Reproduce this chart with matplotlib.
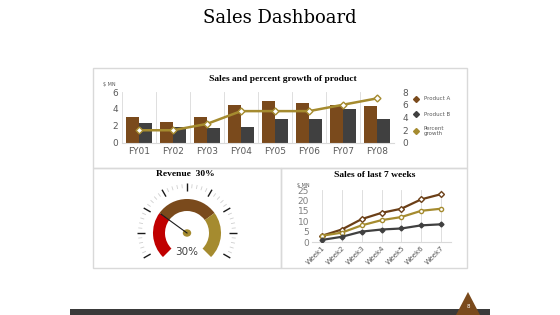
import numpy as np
import matplotlib.pyplot as plt
from matplotlib.patches import Wedge, Rectangle, Polygon, Ellipse

# data
years = ["FY01", "FY02", "FY03", "FY04", "FY05", "FY06", "FY07", "FY08"]
product_a = [3.0, 2.5, 3.0, 4.5, 4.9, 4.7, 4.5, 4.4]
product_b = [2.4, 1.9, 1.8, 1.9, 2.8, 2.8, 4.0, 2.8]
growth = [2, 2, 3, 5, 5, 5, 6, 7]

revenue_pct = 30
gauge_bands = [30, 40, 30]  # red, brown, gold share of the dial

weeks = ["Week1", "Week2", "Week3", "Week4", "Week5", "Week6", "Week7"]
week_top = [3, 6, 11, 14, 16, 20.5, 23]
week_mid = [3, 4.5, 8, 10.5, 12, 15, 16]
week_low = [1, 2.5, 5, 6, 6.5, 8, 8.5]

BROWN = "#7A4A1C"
DARK = "#404040"
GOLD = "#A58B2F"
RED = "#C00000"
GRID = "#D9D9D9"
TXT = "#595959"
SERIF = "Liberation Serif"

W, H = 560, 315
fig = plt.figure(figsize=(5.6, 3.15), dpi=100)


def px_axes(x0, y0, x1, y1, **kw):
    return fig.add_axes([x0 / W, 1 - y1 / H, (x1 - x0) / W, (y1 - y0) / H], **kw)


bg = px_axes(0, 0, W, H)
bg.set_xlim(0, W)
bg.set_ylim(H, 0)
bg.axis("off")
bg.text(280, 18, "Sales Dashboard", ha="center", va="center",
        family="DejaVu Serif", fontsize=13, color="black")
# panel frames
bg.add_patch(Rectangle((93, 68), 374, 100, fill=False, ec=GRID, lw=1))
bg.add_patch(Rectangle((93, 168), 188, 100, fill=False, ec=GRID, lw=1))
bg.add_patch(Rectangle((281, 168), 186, 100, fill=False, ec=GRID, lw=1))
# footer
bg.add_patch(Rectangle((70, 309), 420, 6, color="#3A3A3A", lw=0))
bg.add_patch(Polygon([[456, 315], [468, 292], [480, 315]], closed=True, color=BROWN, lw=0))
bg.text(468, 307, "8", ha="center", va="center", fontsize=4, color="white")

bg.text(283, 79, "Sales and percent growth of product", ha="center", va="center",
        family=SERIF, fontsize=6.8, fontweight="bold")
bg.text(185, 174, "Revenue  30%", ha="center", va="center",
        family=SERIF, fontsize=6.8, fontweight="bold")
bg.text(375, 175, "Sales of last 7 weeks", ha="center", va="center",
        family=SERIF, fontsize=6.8, fontweight="bold")

# top combo chart
ax = px_axes(122, 92, 394, 143)
x = np.arange(len(years))
ax.bar(x - 0.19, product_a, 0.38, color=BROWN, zorder=2)
ax.bar(x + 0.19, product_b, 0.38, color=DARK, zorder=2)
ax.set_xlim(-0.5, len(years) - 0.5)
ax.set_ylim(0, 6)
ax.set_yticks([0, 2, 4, 6])
ax.set_xticks(x)
ax.set_xticklabels(years)
ax.set_xticks(np.arange(len(years) + 1) - 0.5, minor=True)
ax.grid(axis="x", which="minor", color=GRID, lw=0.6, zorder=0)
ax.tick_params(which="both", length=0, labelsize=6.5, colors=TXT, pad=3)
for s in ax.spines.values():
    s.set_visible(False)
ax.spines["bottom"].set_visible(True)
ax.spines["bottom"].set_color(GRID)
ax.text(-0.045, 1.12, "$ MN", transform=ax.transAxes, fontsize=3.5, color=TXT, ha="center")

ax2 = ax.twinx()
ax2.plot(x, growth, color=GOLD, lw=1.8, marker="D", ms=3.5, mfc="white", mec=GOLD, zorder=3)
ax2.set_ylim(0, 8)
ax2.set_yticks([0, 2, 4, 6, 8])
ax2.tick_params(length=0, labelsize=6.5, colors=TXT, pad=6)
for s in ax2.spines.values():
    s.set_visible(False)

# legend
for yy, col, lab in [(99, BROWN, "Product A"), (114, DARK, "Product B"), (131, GOLD, "Percent\ngrowth")]:
    bg.plot(416, yy, marker="D", ms=3, color=col)
    bg.text(424, yy, lab, fontsize=4, color=TXT, va="center", linespacing=1.0)

# gauge
cx, cy = 187, 233
start, sweep = 225, 270
a = start
for frac, col in zip(gauge_bands, [RED, BROWN, GOLD]):
    span = sweep * frac / 100
    bg.add_patch(Wedge((cx, cy), 34, -a, -(a - span), width=12, color=col, lw=0))
    a -= span
# tick ring (y axis is inverted so angles are negated)
for deg in np.arange(-30, 211, 6):
    th = np.radians(deg)
    major = deg % 30 == 0
    r0, r1 = (42, 50) if major else (45, 49)
    bg.plot([cx + r0 * np.cos(th), cx + r1 * np.cos(th)],
            [cy - r0 * np.sin(th), cy - r1 * np.sin(th)],
            color="#1A1A1A" if major else "#CFCFCF", lw=1.0 if major else 0.6,
            solid_capstyle="butt")
needle = np.radians(start - sweep * revenue_pct / 100)
bg.plot([cx, cx + 32 * np.cos(needle)], [cy, cy - 32 * np.sin(needle)], color="#1A1A1A", lw=0.8)
bg.add_patch(Ellipse((cx, cy), 7, 6, color=GOLD))
bg.text(cx, 252, f"{revenue_pct}%", ha="center", va="center", fontsize=7.5, color="#404040")

# weekly sales
ax3 = px_axes(312, 190, 451, 242)
xw = np.arange(len(weeks))
ax3.plot(xw, week_top, color="#6B3F17", lw=1.6, marker="D", ms=3, mfc="white", mec="#6B3F17", zorder=3)
ax3.plot(xw, week_mid, color=GOLD, lw=1.6, marker="o", ms=3, mfc="white", mec=GOLD, zorder=3)
ax3.plot(xw, week_low, color=DARK, lw=1.6, marker="D", ms=2.5, zorder=3)
ax3.set_xlim(-0.5, len(weeks) - 0.5)
ax3.set_ylim(0, 25)
ax3.set_yticks([0, 5, 10, 15, 20, 25])
ax3.set_xticks(xw)
ax3.set_xticklabels(weeks, rotation=45, ha="right", rotation_mode="anchor")
ax3.grid(axis="x", color=GRID, lw=0.6, zorder=0)
ax3.tick_params(length=0, labelsize=6.5, colors="#7F7F7F", pad=2)
ax3.tick_params(axis="x", labelsize=5, colors=TXT)
for s in ax3.spines.values():
    s.set_visible(False)
ax3.spines["bottom"].set_visible(True)
ax3.spines["bottom"].set_color(GRID)
ax3.text(-0.06, 1.06, "$ MN", transform=ax3.transAxes, fontsize=3.5, color=TXT, ha="center")

fig.savefig("out.png", dpi=100)
